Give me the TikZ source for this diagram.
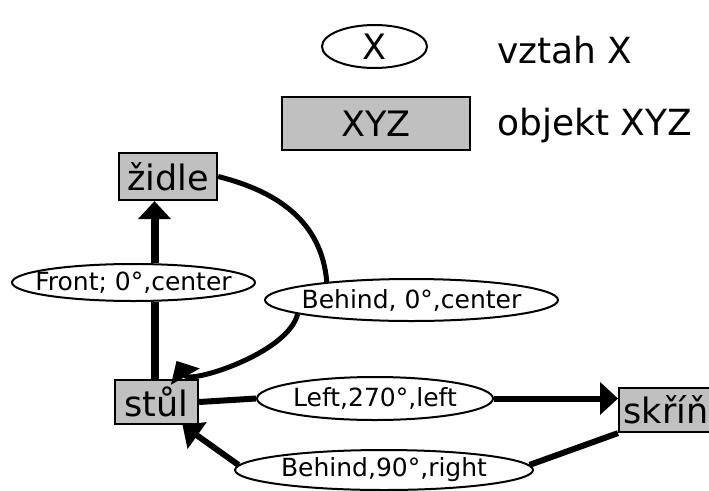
\documentclass[tikz,border=0pt]{standalone}
\usepackage{fontspec}
\setmainfont{DejaVu Sans}
\usetikzlibrary{arrows.meta,shapes.geometric}
\definecolor{objgray}{RGB}{192,192,192}
% label of zero width, so that minimum width alone sets the ellipse
\newcommand{\rellabel}[1]{\makebox[0pt]{#1}}
\tikzset{
    objbox/.style={rectangle, draw, line width=2.2pt, fill=objgray, inner sep=0pt,
        minimum height=45pt, font=\fontsize{35}{40}\selectfont},
    relation/.style={ellipse, draw, line width=2pt, fill=white, inner sep=0pt,
        font=\fontsize{25}{28}\selectfont},
    keytext/.style={inner sep=0pt, anchor=base west, font=\fontsize{36}{40}\selectfont},
}

\begin{document}
\begin{tikzpicture}[x=1pt, y=-1pt,
link/.style={line width=6pt},
bend link/.style={line width=5pt},
>={Triangle[length=18pt,width=32pt]},
]
\useasboundingbox (0,0) rectangle (709,490);

% key
\node[relation, font=\fontsize{35}{40}\selectfont, minimum width=105pt, minimum height=43pt] (keyrel) at (374.5,46.5) {\rellabel{X}};
\node[objbox, minimum width=188pt, minimum height=53pt] (keyobj) at (376,123.5) {XYZ};
\node[keytext] (keyreltext) at (497,63) {vztah X};
\node[keytext] (keyobjtext) at (497,135) {objekt XYZ};

% objects
\node[objbox, minimum width=98pt, minimum height=47pt] (zidle) at (168,176.5) {židle};
\node[objbox, minimum width=83pt, minimum height=44pt] (stul) at (156.5,402) {stůl};
\node[objbox, anchor=west, minimum width=94pt, minimum height=44pt] (skrin) at (618,410) {skříň};

% relations
\node[relation, minimum width=243pt, minimum height=37pt] (front) at (133.5,282.5) {\rellabel{Front; 0°,center}};
\node[relation, minimum width=293pt, minimum height=42pt] (behindA) at (411.5,300) {\rellabel{Behind, 0°,center}};
\node[relation, minimum width=236pt, minimum height=43pt] (left) at (375,398.5) {\rellabel{Left,270°,left}};
\node[relation, minimum width=298pt, minimum height=40pt] (behindB) at (384,470) {\rellabel{Behind,90°,right}};

% stul -> zidle
\draw[link, line width=8pt] ([xshift=-2pt]stul.north) -- ([xshift=-2pt]stul.north |- front.south);
\draw[link, line width=8pt, ->] ([xshift=-2pt]stul.north |- front.north) -- ([xshift=-2pt]stul.north |- zidle.south);

% zidle -> stul
\draw[bend link] (zidle.east) .. controls +(60,15) and +(-5,-60) .. (behindA.168);
\draw[bend link, ->] (behindA.187) .. controls +(-10,40) and +(13,23) .. ([xshift=20pt,yshift=18pt]stul.north);

% stul -> skrin
\draw[link] (stul.east) -- (left.west);
\draw[link, ->] (left.east) -- (left.east -| skrin.west);

% skrin -> stul
\draw[link] (skrin.south west) -- (behindB.2);
\draw[link, ->] (behindB.178) -- ([xshift=26pt]stul.south);
\end{tikzpicture}
\end{document}
